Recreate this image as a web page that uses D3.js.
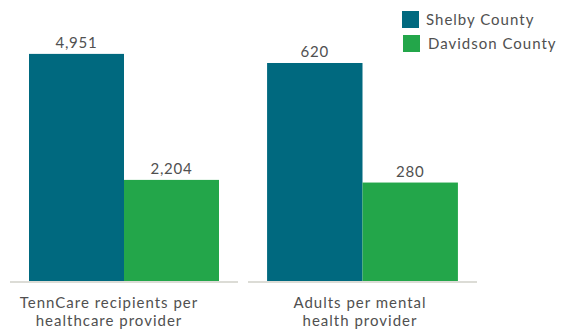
<!DOCTYPE html>
<html>
<head>
<meta charset="utf-8">
<script src="https://cdn.jsdelivr.net/npm/d3@7"></script>
<style>
  body { margin: 0; background: #fff; }
  text { font-family: Lato, "Noto Sans", sans-serif; fill: #505050; }
</style>
</head>
<body>
<div id="chart"></div>
<script>
// data
const counties = ["Shelby County", "Davidson County"]
const measures = [["TennCare recipients per", "healthcare provider"], ["Adults per mental", "health provider"]]
const shelbyValues = [4951, 620]
const davidsonValues = [2204, 280]
const domainMax = [5450, 711]

const colors = ["#00697f", "#23a64a"]

const width = 564, height = 330
const svg = d3.select("#chart").append("svg")
    .attr("width", width)
    .attr("height", height)

// each measure gets its own panel and its own y scale
const panels = [
    { x0: 10, x1: 238, labelX: 109 },
    { x0: 248, x1: 477, labelX: 360 }
]
const baseY = 281, topY = 31

measures.forEach((m, i) => {
    const p = panels[i]
    const vals = [shelbyValues[i], davidsonValues[i]]

    const xScale = d3.scaleBand()
        .domain(counties)
        .range([p.x0, p.x1])
        .paddingInner(0)
        .paddingOuter(0.2)

    const yScale = d3.scaleLinear()
        .domain([0, domainMax[i]])
        .range([baseY, topY])

    const g = svg.append("g")

    g.selectAll("rect")
        .data(vals)
        .join("rect")
            .attr("x", (d, j) => xScale(counties[j]))
            .attr("width", xScale.bandwidth())
            .attr("y", d => yScale(d))
            .attr("height", d => baseY - yScale(d))
            .attr("fill", (d, j) => colors[j])

    g.selectAll(".val")
        .data(vals)
        .join("text")
            .attr("class", "val")
            .attr("x", (d, j) => xScale(counties[j]) + xScale.bandwidth() / 2)
            .attr("y", d => yScale(d) - 6)
            .attr("text-anchor", "middle")
            .style("font-size", "15px")
            .style("letter-spacing", "0.8px")
            .text(d3.format(","))

    // baseline
    g.append("line")
        .attr("x1", p.x0).attr("x2", p.x1)
        .attr("y1", baseY + 1).attr("y2", baseY + 1)
        .attr("stroke", "#dcdcd6")
        .attr("stroke-width", 2)

    // category label, two lines
    g.selectAll(".cat")
        .data(m)
        .join("text")
            .attr("class", "cat")
            .attr("x", p.labelX)
            .attr("y", (d, j) => 307.5 + j * 18.5)
            .attr("text-anchor", "middle")
            .style("font-size", "15px")
            .style("letter-spacing", "1px")
            .text(d => d)
})

// legend
const legend = svg.append("g")
    .attr("transform", "translate(402, 11)")

const item = legend.selectAll("g")
    .data(counties)
    .join("g")
        .attr("transform", (d, i) => `translate(${i}, ${i * 24})`)

item.append("rect")
    .attr("width", 17)
    .attr("height", 17)
    .attr("fill", (d, i) => colors[i])

item.append("text")
    .attr("x", (d, i) => 24 + i * 1)
    .attr("y", 14)
    .style("font-size", "15px")
    .style("letter-spacing", "1px")
    .text(d => d)
</script>
</body>
</html>
